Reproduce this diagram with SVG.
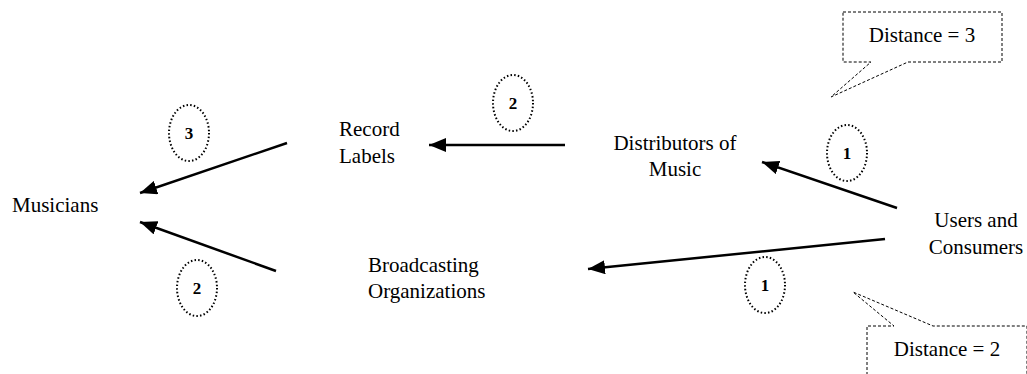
<svg xmlns="http://www.w3.org/2000/svg" width="1027" height="374" viewBox="0 0 1027 374">
<style>
.lbl{font-family:'Liberation Serif','DejaVu Serif',serif;font-size:21px;fill:#000}
.num{font-family:'Liberation Serif','DejaVu Serif',serif;font-size:17px;font-weight:bold;fill:#000;text-anchor:middle}
.oval{fill:none;stroke:#000;stroke-width:2;stroke-dasharray:1.5 2.2}
.edge{stroke:#000;stroke-width:2.5;fill:none;marker-end:url(#ah)}
.callout{fill:#fff;stroke:#000;stroke-width:1;stroke-dasharray:3 2}
</style>
<defs>
<marker id="ah" markerUnits="userSpaceOnUse" markerWidth="18" markerHeight="14" refX="17" refY="7" orient="auto">
<path d="M0,0 L17,7 L0,14 Z" fill="#000"/>
</marker>
</defs>
<rect width="1027" height="374" fill="#fff"/>
<g id="connectors">
<line class="edge" x1="287" y1="143" x2="140" y2="193"/>
<line class="edge" x1="276" y1="271" x2="140" y2="222"/>
<line class="edge" x1="565" y1="145" x2="429" y2="145"/>
<line class="edge" x1="897" y1="208" x2="762" y2="162"/>
<line class="edge" x1="885" y1="239" x2="588" y2="269"/>
</g>
<g id="musicians"><text class="lbl" x="12" y="212">Musicians</text></g>
<g id="record-labels"><text class="lbl" x="339" y="136">Record</text><text class="lbl" x="339" y="163">Labels</text></g>
<g id="distributors"><text class="lbl" x="675" y="150" text-anchor="middle">Distributors of</text><text class="lbl" x="675" y="176" text-anchor="middle">Music</text></g>
<g id="users"><text class="lbl" x="976" y="227" text-anchor="middle">Users and</text><text class="lbl" x="976" y="254" text-anchor="middle">Consumers</text></g>
<g id="broadcasting"><text class="lbl" x="368" y="272">Broadcasting</text><text class="lbl" x="368" y="298">Organizations</text></g>
<g id="weight-3"><ellipse class="oval" cx="189" cy="133" rx="20" ry="28"/><text class="num" x="189" y="139">3</text></g>
<g id="weight-2a"><ellipse class="oval" cx="197" cy="288" rx="20" ry="28"/><text class="num" x="197" y="294">2</text></g>
<g id="weight-2b"><ellipse class="oval" cx="513" cy="103" rx="20" ry="28"/><text class="num" x="513" y="109">2</text></g>
<g id="weight-1a"><ellipse class="oval" cx="847" cy="153" rx="20" ry="28"/><text class="num" x="847" y="159">1</text></g>
<g id="weight-1b"><ellipse class="oval" cx="765" cy="285" rx="20" ry="28"/><text class="num" x="765" y="291">1</text></g>
<g id="callout-3"><path class="callout" d="M843,12 H1002 V62 H908 L831,97 L871,62 H843 Z"/><text class="lbl" x="922" y="42" text-anchor="middle">Distance = 3</text></g>
<g id="callout-2"><path class="callout" d="M867,380 V326 H894 L853,292 L933,326 H1027 V380"/><text class="lbl" x="947" y="356" text-anchor="middle">Distance = 2</text></g>
</svg>
